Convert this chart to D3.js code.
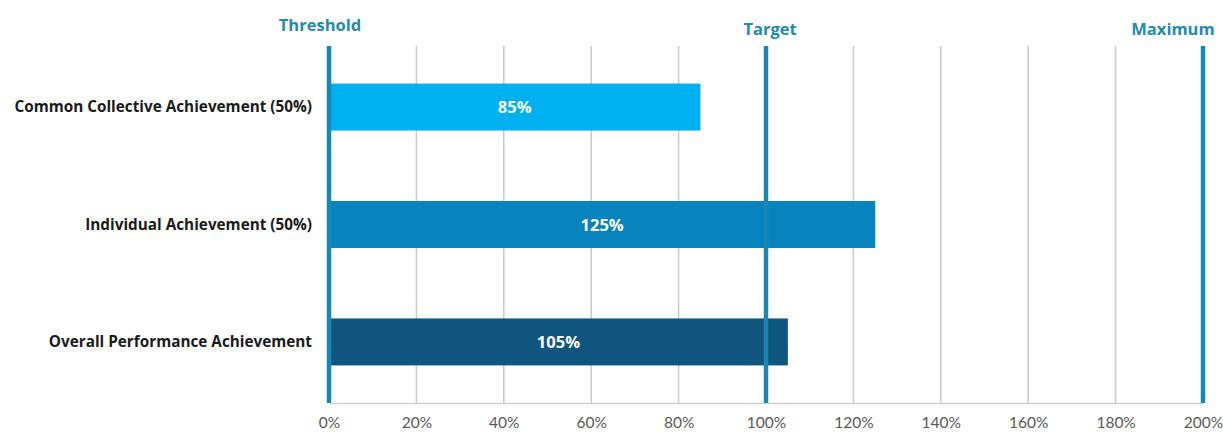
<!DOCTYPE html>
<html>
<head>
<meta charset="utf-8">
<script src="https://cdn.jsdelivr.net/npm/d3@7"></script>
<style>
  body { margin:0; background:#fff; }
  text { font-family: "Open Sans", Lato, sans-serif; }
</style>
</head>
<body>
<svg id="chart" width="1223" height="434"></svg>
<script>
// chart data
const categories = ["Common Collective Achievement (50%)", "Individual Achievement (50%)", "Overall Performance Achievement"];
const values = [85, 125, 105];
const barColors = ["#00b0f0", "#0784be", "#0f557e"];
const refNames = ["Threshold", "Target", "Maximum"];
const refValues = [0, 100, 200];
const ticks = [0, 20, 40, 60, 80, 100, 120, 140, 160, 180, 200];

const svg = d3.select("#chart");
const plotLeft = 329, plotRight = 1203, plotTop = 46, plotBottom = 403;

let x = d3.scaleLinear().domain([0, 200]).range([plotLeft, plotRight]);
let y = d3.scaleBand().domain(categories).range([plotTop, plotBottom])
  .paddingInner(0.6).paddingOuter(0.32);

// gridlines
svg.append("g")
  .selectAll("line")
  .data(ticks.filter(t => refValues.indexOf(t) < 0))
  .enter().append("line")
  .attr("x1", d => x(d)).attr("x2", d => x(d))
  .attr("y1", plotTop).attr("y2", plotBottom)
  .attr("stroke", "#c9c9c9").attr("stroke-width", 1.5);

// bottom axis
let xAxis = d3.axisBottom(x).tickValues(ticks).tickFormat(d => d + "%").tickSize(0).tickPadding(14);
let gx = svg.append("g").attr("transform", "translate(0," + plotBottom + ")").call(xAxis);
gx.select(".domain").attr("stroke", "#d0d0d0").attr("stroke-width", 1.5);
gx.selectAll("text")
  .style("font-family", "Lato, sans-serif")
  .style("font-size", "15.5px")
  .attr("fill", "#595959");

// bars
svg.append("g")
  .selectAll("rect")
  .data(values)
  .enter().append("rect")
  .attr("x", x(0))
  .attr("y", (d, i) => y(categories[i]))
  .attr("width", d => x(d) - x(0))
  .attr("height", y.bandwidth())
  .attr("fill", (d, i) => barColors[i]);

// bar value labels
svg.append("g")
  .selectAll("text")
  .data(values)
  .enter().append("text")
  .attr("x", d => (x(0) + x(d)) / 2)
  .attr("y", (d, i) => y(categories[i]) + y.bandwidth() / 2 + 6)
  .attr("text-anchor", "middle")
  .attr("fill", "#fff")
  .style("font-size", "16.5px")
  .style("font-weight", "bold")
  .text(d => d + "%");

// category labels
svg.append("g")
  .selectAll("text")
  .data(categories)
  .enter().append("text")
  .attr("x", plotLeft - 17)
  .attr("y", d => y(d) + y.bandwidth() / 2 + 5)
  .attr("text-anchor", "end")
  .attr("fill", "#1a1a1a")
  .style("font-size", "15.3px")
  .style("font-weight", "bold")
  .text(d => d);

// reference lines, on top of bars
svg.append("g")
  .selectAll("line")
  .data(refValues)
  .enter().append("line")
  .attr("x1", d => x(d)).attr("x2", d => x(d))
  .attr("y1", plotTop).attr("y2", plotBottom)
  .attr("stroke", "#1a87b2").attr("stroke-width", 4.5);

// reference labels
const labelShift = [-9, 4, -30];
svg.append("g")
  .selectAll("text")
  .data(refValues)
  .enter().append("text")
  .attr("x", (d, i) => x(d) + labelShift[i])
  .attr("y", (d, i) => i == 0 ? 31 : 35)
  .attr("text-anchor", "middle")
  .attr("fill", "#238ab0")
  .style("font-size", "16.5px")
  .style("font-weight", "bold")
  .text((d, i) => refNames[i]);
</script>
</body>
</html>
